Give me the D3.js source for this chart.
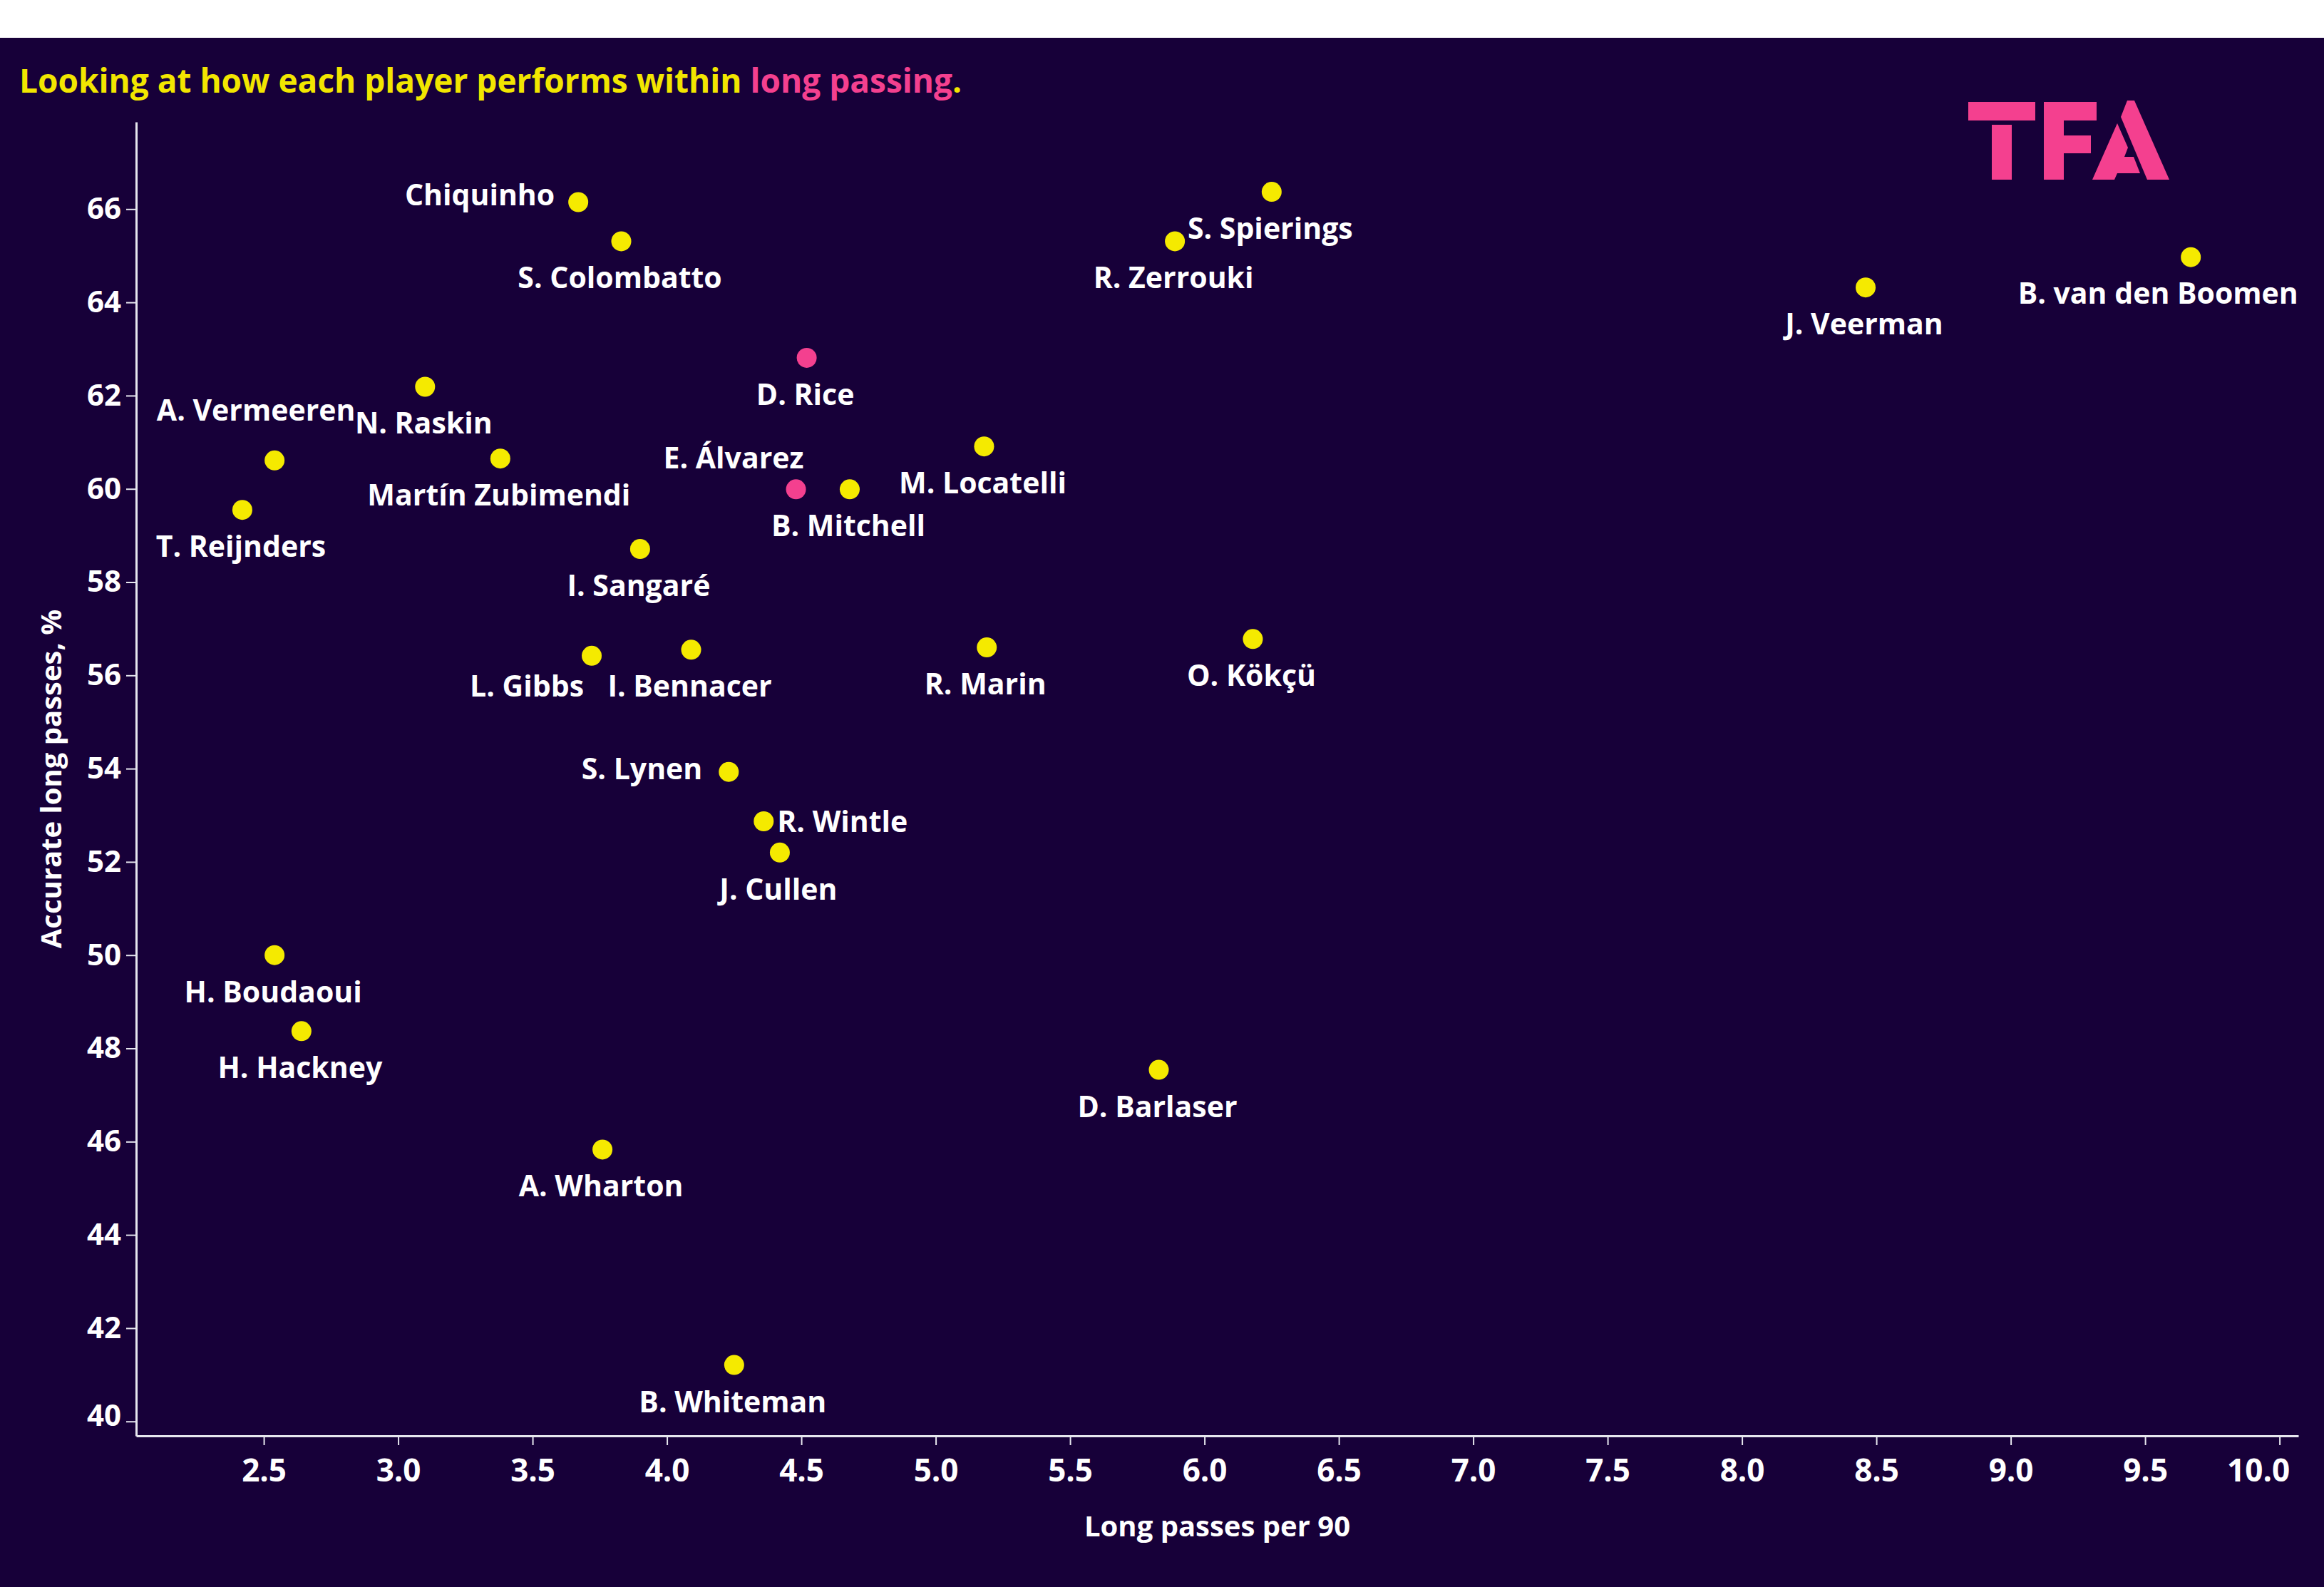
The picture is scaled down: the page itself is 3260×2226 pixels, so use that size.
<!DOCTYPE html>
<html><head><meta charset="utf-8">
<script src="https://cdn.jsdelivr.net/npm/d3@7"></script>
<style>
body{margin:0;background:#ffffff;}
text{font-family:"Open Sans",sans-serif;font-weight:700;}
</style>
</head><body>
<svg id="chart" width="3260" height="2226"></svg>
<script>
// ---------- data ----------
const players = ["Chiquinho","S. Colombatto","S. Spierings","R. Zerrouki","J. Veerman","B. van den Boomen",
  "D. Rice","N. Raskin","A. Vermeeren","Martín Zubimendi","T. Reijnders","E. Álvarez","B. Mitchell",
  "M. Locatelli","I. Sangaré","L. Gibbs","I. Bennacer","R. Marin","O. Kökçü","S. Lynen","R. Wintle",
  "J. Cullen","H. Boudaoui","H. Hackney","D. Barlaser","A. Wharton","B. Whiteman"];
const longPassesPer90 = [3.67,3.83,6.25,5.89,8.46,9.67,
  4.52,3.10,2.54,3.38,2.42,4.48,4.68,
  5.18,3.90,3.72,4.09,5.19,6.18,4.23,4.36,
  4.42,2.54,2.64,5.83,3.76,4.25];
const accurateLongPassesPct = [66.15,65.31,66.37,65.31,64.32,64.97,
  62.81,62.19,60.61,60.65,59.55,59.99,59.99,
  60.91,58.71,56.42,56.55,56.60,56.78,53.93,52.87,
  52.20,50.00,48.37,47.54,45.83,41.21];
const highlighted = ["D. Rice","E. Álvarez"];
const xTickValues = [2.5,3.0,3.5,4.0,4.5,5.0,5.5,6.0,6.5,7.0,7.5,8.0,8.5,9.0,9.5,10.0];
const yTickValues = [40,42,44,46,48,50,52,54,56,58,60,62,64,66];
const xDomain = [2.025, 10.07];
const yDomain = [39.69, 67.87];
const titleParts = [["Looking at how each player performs within ","#f2e600"],["long passing","#f4408f"],[".","#f2e600"]];
const xTitle = "Long passes per 90";
const yTitle = "Accurate long passes, %";

// label placement relative to each dot (layout only): [dx, dy, anchor]
const labelPlacement = {
  "Chiquinho":[-33,5,"end"],
  "A. Vermeeren":[-26,-56,"middle"],
  "E. Álvarez":[11,-29,"end"],
  "L. Gibbs":[-11,57,"end"],
  "S. Lynen":[-37,10,"end"],
  "R. Wintle":[19,15,"start"],
  "B. van den Boomen":[-46,65,"middle"]
};

// ---------- layout ----------
const W = 3260, H = 2226;
const plot = {left:191, right:3224, top:171, bottom:2014};
const bg = "#170039", dotYellow = "#f5ea00", pink = "#f4408f", axisCol = "#e6e6ee";

const svg = d3.select("#chart");
svg.append("rect").attr("x",0).attr("y",53).attr("width",W).attr("height",H-53).attr("fill",bg);

const x = d3.scaleLinear().domain(xDomain).range([plot.left, plot.right]);
const y = d3.scaleLinear().domain(yDomain).range([plot.bottom, plot.top]);

// title
const title = svg.append("text").attr("x",27).attr("y",130).attr("font-size",46);
titleParts.forEach(p => title.append("tspan").attr("fill",p[1]).text(p[0]));

// axes
const xAxis = svg.append("g").attr("transform",`translate(0,${plot.bottom})`)
  .call(d3.axisBottom(x).tickValues(xTickValues).tickFormat(d3.format(".1f")).tickSize(13).tickPadding(20).tickSizeOuter(0));
xAxis.select(".domain").attr("stroke",axisCol).attr("stroke-width",3);
xAxis.selectAll(".tick line").attr("stroke",axisCol).attr("stroke-width",2);
xAxis.selectAll(".tick text").attr("fill","#ffffff").attr("font-size",44)
  .attr("font-family","Open Sans").attr("font-weight",700);
// keep the last label inside the plot edge
xAxis.selectAll(".tick").filter(d=>d===xTickValues[xTickValues.length-1]).select("text")
  .attr("text-anchor","end").attr("x",14);

const yAxis = svg.append("g").attr("transform",`translate(${plot.left},0)`)
  .call(d3.axisLeft(y).tickValues(yTickValues).tickFormat(d3.format("d")).tickSize(14).tickPadding(7).tickSizeOuter(0));
yAxis.select(".domain").attr("stroke",axisCol).attr("stroke-width",3);
yAxis.selectAll(".tick line").attr("stroke",axisCol).attr("stroke-width",2);
yAxis.selectAll(".tick text").attr("fill","#ffffff").attr("font-size",42)
  .attr("font-family","Open Sans").attr("font-weight",700);
yAxis.selectAll(".tick").filter(d=>d===yTickValues[0]).select("text").attr("y",-8);

// axis titles
svg.append("text").attr("x",(plot.left+plot.right)/2).attr("y",2155).attr("text-anchor","middle")
  .attr("fill","#ffffff").attr("font-size",40).text(xTitle);
svg.append("text").attr("transform",`translate(86,${(plot.top+plot.bottom)/2}) rotate(-90)`)
  .attr("text-anchor","middle").attr("fill","#ffffff").attr("font-size",40).text(yTitle);

// data
const data = players.map((p,i)=>({name:p, lp:longPassesPer90[i], acc:accurateLongPassesPct[i]}));

svg.append("g").selectAll("circle").data(data).join("circle")
  .attr("cx",d=>x(d.lp)).attr("cy",d=>y(d.acc)).attr("r",14)
  .attr("fill",d=>highlighted.includes(d.name)?pink:dotYellow);

svg.append("g").selectAll("text").data(data).join("text")
  .attr("x",d=>x(d.lp)+(labelPlacement[d.name]?labelPlacement[d.name][0]:-2))
  .attr("y",d=>y(d.acc)+(labelPlacement[d.name]?labelPlacement[d.name][1]:66))
  .attr("text-anchor",d=>labelPlacement[d.name]?labelPlacement[d.name][2]:"middle")
  .attr("fill","#ffffff").attr("font-size",41).text(d=>d.name);

// TFA logo (decoration)
const logo = svg.append("g").attr("fill",pink);
logo.append("rect").attr("x",2761).attr("y",143).attr("width",94).attr("height",26);
logo.append("rect").attr("x",2794).attr("y",175).attr("width",28).attr("height",77);
logo.append("rect").attr("x",2867).attr("y",143).attr("width",28).attr("height",109);
logo.append("rect").attr("x",2867).attr("y",143).attr("width",74).attr("height",26);
logo.append("rect").attr("x",2894).attr("y",190).attr("width",39).attr("height",25);
logo.append("polygon").attr("points","2984,141 2994,141 3043,252 3012,252 2975,164");
logo.append("polygon").attr("points","2970,173 2985,207 2980,220 2993,220 3002,243 2970,243 2966,252 2935,252");
</script>
</body></html>
